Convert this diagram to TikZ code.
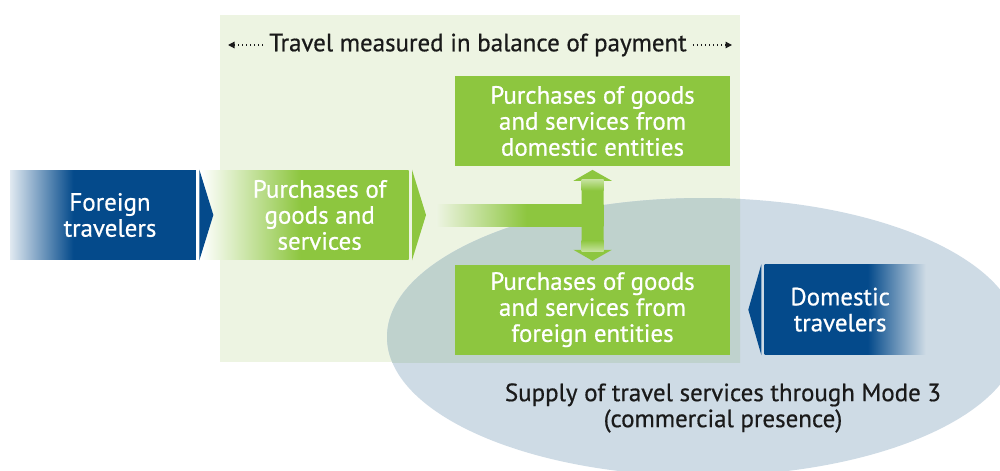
\documentclass[tikz,border=0pt]{standalone}
\usepackage{fontspec}
\setmainfont{PT Sans}
\usetikzlibrary{positioning, arrows.meta, calc}

\definecolor{navy}{RGB}{4,74,139}
\definecolor{leaf}{RGB}{141,198,63}
\definecolor{pale}{RGB}{237,244,226}
\definecolor{mist}{RGB}{206,219,229}
\definecolor{mistpale}{RGB}{191,210,205}
\definecolor{ink}{RGB}{26,26,26}
\colorlet{navyfaint}{navy!12!white}
\colorlet{leaflight}{leaf!50!white}

% horizontal fades: 25bp..75bp is the node itself
\pgfdeclarehorizontalshading{foreignfade}{100bp}{color(0bp)=(navyfaint); color(25bp)=(navyfaint); color(42bp)=(navy); color(100bp)=(navy)}
\pgfdeclarehorizontalshading{purchasefade}{100bp}{color(0bp)=(white); color(25bp)=(white); color(49bp)=(leaf); color(100bp)=(leaf)}
\pgfdeclarehorizontalshading{domesticfade}{100bp}{color(0bp)=(navy); color(57bp)=(navy); color(75bp)=(mist); color(100bp)=(mist)}
\pgfdeclarehorizontalshading{flowfade}{100bp}{color(0bp)=(pale); color(25bp)=(pale); color(52bp)=(leaf); color(100bp)=(leaf)}

\tikzstyle{block} = [rectangle, minimum height=1.8cm, inner sep=0pt, text=white, align=center]
\tikzstyle{entity} = [block, fill=leaf, minimum width=5.5cm]
\tikzstyle{traveler} = [block, minimum width=3.72cm]
\tikzstyle{flow} = [line width=0.44cm, leaf, shorten >=2, -{Triangle[width=0.76cm,length=0.22cm]}]
\tikzstyle{dotline} = [ink, line width=0.7pt, dash pattern=on 0.7pt off 1.6pt, -{Triangle[width=0.13cm,length=0.13cm]}]

\begin{document}
\begin{tikzpicture}[x=0.02cm, y=-0.02cm, every node/.style={font=\fontsize{14.2pt}{14.8pt}\selectfont\addfontfeature{FakeBold=0.6}}]
    \useasboundingbox (0,0) rectangle (1000,470);

    % balance of payment area and Mode 3 ellipse
    \fill[pale] (220,15) rectangle (740,362);
    \fill[mist] (703,337) ellipse [x radius=316, y radius=139];
    \begin{scope}
        \clip (220,15) rectangle (740,362);
        \fill[mistpale] (703,337) ellipse [x radius=316, y radius=139];
    \end{scope}

    \node (bop) [text=ink] at (478,45) {Travel measured in balance of payment};
    \coordinate (bopl) at (228,45);
    \coordinate (bopr) at (732,45);
    \draw [dotline] (bop.west) -- (bopl);
    \draw [dotline] (bop.east) -- (bopr);

    \node (mode) [text=ink, align=center] at (723,408) {Supply of travel services through Mode 3\\(commercial presence)};

    % travellers and purchases
    \node (fgn) [traveler, shading=foreignfade, label={[text=white, align=center, xshift=0.14cm]center:Foreign\\travelers}] at (103,215) {};
    \node (pgs) [block, shading=purchasefade, minimum width=4.16cm, right=0.08cm of fgn, label={[text=white, align=center, xshift=0.3cm]center:Purchases of\\goods and\\services}] {};
    \fill[navy] ($(fgn.north east)+(3,0)$) -- ($(fgn.east)+(17,0)$) -- ($(fgn.south east)+(3,0)$) -- cycle;
    \fill[leaf] ($(pgs.north east)+(3,0)$) -- ($(pgs.east)+(17,0)$) -- ($(pgs.south east)+(3,0)$) -- cycle;

    \node (dom) [entity] at (592.5,121) {Purchases of goods\\and services from\\domestic entities};
    \node (frn) [entity, below=1.96cm of dom] {Purchases of goods\\and services from\\foreign entities};
    \node (dtr) [block, shading=domesticfade, minimum width=3.22cm, right=0.68cm of frn, label={[text=white, align=center, xshift=-0.1cm]center:Domestic\\travelers}] {};
    \fill[navy] ($(dtr.north west)+(-3,0)$) -- ($(dtr.west)+(-16,0)$) -- ($(dtr.south west)+(-3,0)$) -- cycle;

    % flow into the split
    \node (bar) [rectangle, inner sep=0pt, shading=flowfade, minimum width=3.34cm, minimum height=0.44cm, right=0.54cm of pgs] {};
    \coordinate (jn) at ($(bar.east)+(-11,0)$);
    \draw [flow] (jn) -- (dom.south);
    \draw [flow] (jn) -- (frn.north);
    % lighter neck under each head
    \shade[top color=leaflight, bottom color=leaf] ($(jn |- dom.south)+(-11,13)$) rectangle ($(jn |- dom.south)+(11,24)$);
    \shade[top color=leaf, bottom color=leaflight] ($(jn |- frn.north)+(-11,-24)$) rectangle ($(jn |- frn.north)+(11,-13)$);
\end{tikzpicture}
\end{document}
